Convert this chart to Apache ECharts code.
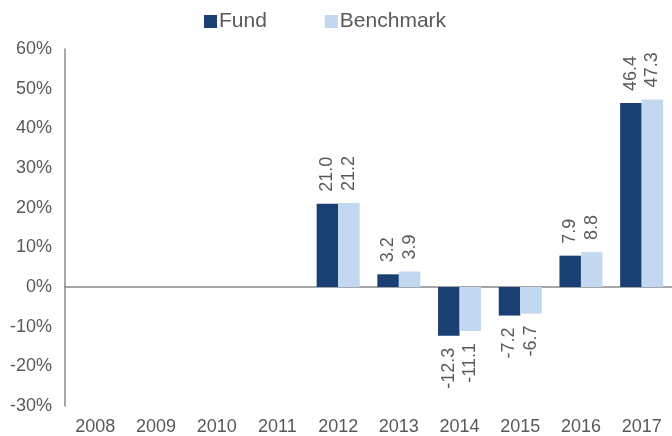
<!DOCTYPE html>
<html>
<head>
<meta charset="utf-8">
<script src="https://cdn.jsdelivr.net/npm/echarts@6/dist/echarts.min.js"></script>
<style>
  html, body { margin: 0; padding: 0; background: #fff; }
  #chart { width: 672px; height: 436px; }
</style>
</head>
<body>
<div id="chart"></div>
<script>
// 年份和收益率数据（%）
const years = ['2008', '2009', '2010', '2011', '2012', '2013', '2014', '2015', '2016', '2017'];
const fund = [null, null, null, null, 21.0, 3.2, -12.3, -7.2, 7.9, 46.4];
const benchmark = [null, null, null, null, 21.2, 3.9, -11.1, -6.7, 8.8, 47.3];

const textGray = '#595959';
const font = 'Liberation Sans, Arial, sans-serif';

// 正数标签在上，负数标签在下，竖着写
function withLabels(values) {
    return values.map(function (v) {
        if (v === null) return null;
        const neg = v < 0;
        return {
            value: v,
            label: {
                show: true,
                position: neg ? 'bottom' : 'top',
                rotate: 90,
                align: neg ? 'right' : 'left',
                verticalAlign: 'middle',
                distance: 12,
                color: textGray,
                fontSize: 18,
                fontFamily: font,
                formatter: function (p) { return p.value.toFixed(1); }
            }
        };
    });
}

const chart = echarts.init(document.getElementById('chart'));
chart.setOption({
    animation: false,
    color: ['#1A3F73', '#C2D8F0'],
    textStyle: { fontFamily: font },
    legend: {
        data: ['Fund', 'Benchmark'],
        top: 6,
        left: 199,
        itemWidth: 13,
        itemHeight: 13,
        itemGap: 58,
        icon: 'rect',
        textStyle: { fontSize: 21, color: textGray, padding: [0, 0, 0, -3] }
    },
    grid: { left: 65, right: -4, top: 49, bottom: 30 },
    xAxis: [
        {
            type: 'category',
            data: years,
            axisLine: { onZero: true, lineStyle: { color: '#898989', width: 1.5 } },
            axisTick: { show: false },
            axisLabel: { show: false }
        },
        {
            type: 'category',
            data: years,
            position: 'bottom',
            axisLine: { show: false, onZero: false },
            axisTick: { show: false },
            axisLabel: { color: textGray, fontSize: 18, margin: 12 }
        }
    ],
    yAxis: {
        type: 'value',
        min: -30,
        max: 60,
        interval: 10,
        axisLine: { show: true, lineStyle: { color: '#898989', width: 1.5 } },
        axisTick: { show: false },
        splitLine: { show: false },
        axisLabel: { color: textGray, fontSize: 18, margin: 13, formatter: '{value}%' }
    },
    series: [
        {
            name: 'Fund',
            type: 'bar',
            barWidth: 21.5,
            barGap: '0%',
            data: withLabels(fund)
        },
        {
            name: 'Benchmark',
            type: 'bar',
            barWidth: 21.5,
            barGap: '0%',
            data: withLabels(benchmark)
        }
    ]
});
</script>
</body>
</html>
